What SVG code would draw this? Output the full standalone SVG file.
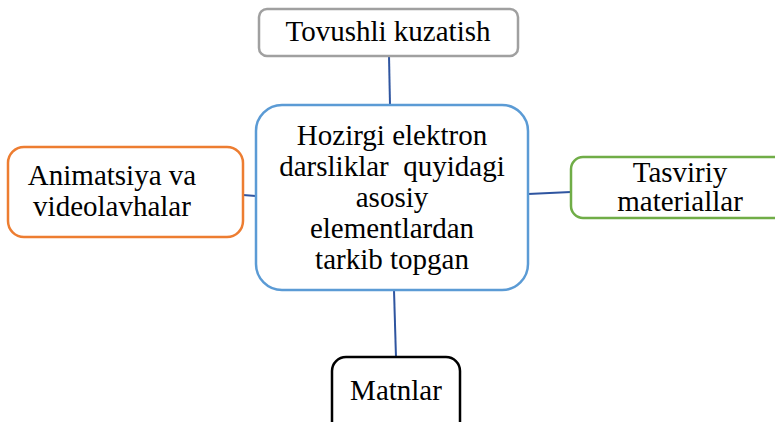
<svg xmlns="http://www.w3.org/2000/svg" width="775" height="422" viewBox="0 0 775 422">
<style>
.box{fill:#fff;stroke-width:2.5}
.c{stroke:#2f55a0;stroke-width:2;fill:none}
</style>
<rect width="775" height="422" fill="#fff"/>
<g id="connectors">
<line class="c" x1="389" y1="56" x2="390" y2="105"/>
<line class="c" x1="243" y1="195" x2="256" y2="196"/>
<line class="c" x1="528" y1="194" x2="571" y2="192"/>
<line class="c" x1="394" y1="290" x2="396" y2="358"/>
</g>
<g id="top">
<rect class="box" x="259" y="9" width="259" height="47" rx="8" stroke="#a0a0a0"/>
<text x="388" y="41" font-family="'Liberation Serif', serif" font-size="29" text-anchor="middle">Tovushli kuzatish</text>
</g>
<g id="center">
<rect class="box" x="256" y="105" width="272" height="185" rx="26" stroke="#5b9bd5"/>
<text x="392" y="145" font-family="'Liberation Serif', serif" font-size="29" text-anchor="middle">Hozirgi elektron</text>
<text x="392" y="176" font-family="'Liberation Serif', serif" font-size="29" text-anchor="middle" xml:space="preserve">darsliklar  quyidagi</text>
<text x="392" y="207" font-family="'Liberation Serif', serif" font-size="29" text-anchor="middle">asosiy</text>
<text x="392" y="238" font-family="'Liberation Serif', serif" font-size="29" text-anchor="middle">elementlardan</text>
<text x="392" y="269" font-family="'Liberation Serif', serif" font-size="29" text-anchor="middle">tarkib topgan</text>
</g>
<g id="left">
<rect class="box" x="8" y="147" width="235" height="90" rx="16" stroke="#ed7d31"/>
<text x="112" y="185" font-family="'Liberation Serif', serif" font-size="29" text-anchor="middle">Animatsiya va</text>
<text x="112" y="216" font-family="'Liberation Serif', serif" font-size="29" text-anchor="middle">videolavhalar</text>
</g>
<g id="right">
<rect class="box" x="571" y="157" width="220" height="61" rx="12" stroke="#70ad47"/>
<text x="680" y="182" font-family="'Liberation Serif', serif" font-size="29" text-anchor="middle">Tasviriy</text>
<text x="680" y="211" font-family="'Liberation Serif', serif" font-size="29" text-anchor="middle">materiallar</text>
</g>
<g id="bottom">
<rect class="box" x="332" y="357" width="128" height="80" rx="14" stroke="#000"/>
<text x="396" y="400" font-family="'Liberation Serif', serif" font-size="29" text-anchor="middle">Matnlar</text>
</g>
</svg>
